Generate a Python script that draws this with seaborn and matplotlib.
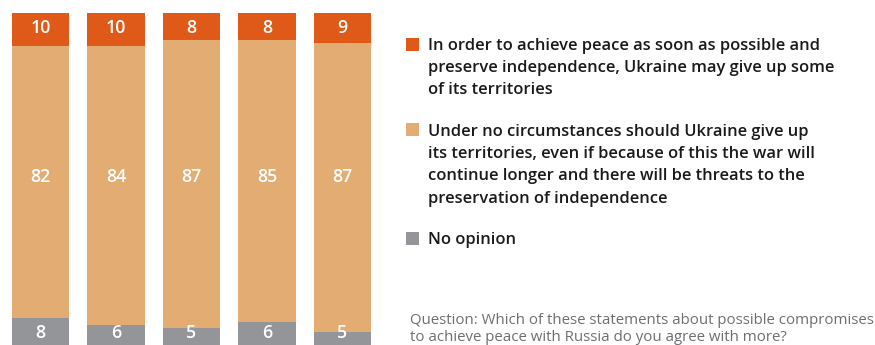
import matplotlib
matplotlib.use("Agg")
import matplotlib.pyplot as plt
import seaborn as sns
import pandas as pd

# Survey waves (not labelled on the chart) and answer shares, %
waves = ["w1", "w2", "w3", "w4", "w5"]
give_up = [10, 10, 8, 8, 9]
never = [82, 84, 87, 85, 87]
no_opinion = [8, 6, 5, 6, 5]

series_labels = [
    "In order to achieve peace as soon as possible and\npreserve independence, Ukraine may give up some\nof its territories",
    "Under no circumstances should Ukraine give up\nits territories, even if because of this the war will\ncontinue longer and there will be threats to the\npreservation of independence",
    "No opinion",
]
question = ("Question: Which of these statements about possible compromises\n"
            "to achieve peace with Russia do you agree with more?")

c_dark = "#DF5A19"
c_light = "#E3AC73"
c_grey = "#949599"
colors = [c_dark, c_light, c_grey]

W, H = 875, 345
sns.set_theme(style="white")
plt.rcParams["font.family"] = ["Open Sans", "DejaVu Sans"]

fig = plt.figure(figsize=(W / 100, H / 100), dpi=100)


def fx(px):
    return px / W


def fy(py):
    return 1 - py / H


ax = fig.add_axes([fx(2.75), 0, fx(377.5), 332 / H])

# Bars are stacked downward from 100: top segment first, the rest below it.
df = pd.DataFrame({"wave": waves, "give_up": give_up, "never": never,
                   "no_opinion": no_opinion})
df["top"] = 100
df["mid_top"] = df["top"] - df["give_up"]
df["low_top"] = df["mid_top"] - df["never"]

for col, color in zip(["top", "mid_top", "low_top"], colors):
    sns.barplot(data=df, x="wave", y=col, color=color, width=0.755,
                saturation=1, ax=ax, edgecolor="none", linewidth=0)

ax.set_xlim(-0.5, 4.5)
ax.set_ylim(0, 100)
ax.axis("off")

# value labels
label_rows = [(give_up, 95.5), (never, 50.6), (no_opinion, 3.6)]
for vals, yv in label_rows:
    for i, v in enumerate(vals):
        ax.text(i, yv, f"{v}", ha="center", va="center", color="white",
                fontsize=12.8, fontweight="semibold")

# legend: 13 px squares, first text line level with the square
legend_tops = [37.5, 123.5, 232]
for (txt, col, ty) in zip(series_labels, colors, legend_tops):
    fig.patches.append(plt.Rectangle((fx(406), fy(ty + 13)), fx(13), 13 / H,
                                     transform=fig.transFigure,
                                     facecolor=col, edgecolor="none"))
    fig.text(fx(427.5), fy(ty), txt, ha="left", va="top",
             fontsize=11.9, fontweight="semibold", color="#1a1a1a",
             linespacing=1.54)

fig.text(fx(409.5), fy(312.6), question, ha="left", va="top",
         fontsize=10.85, color="#6d6e71", linespacing=1.21)

fig.savefig("out.png", dpi=100)
